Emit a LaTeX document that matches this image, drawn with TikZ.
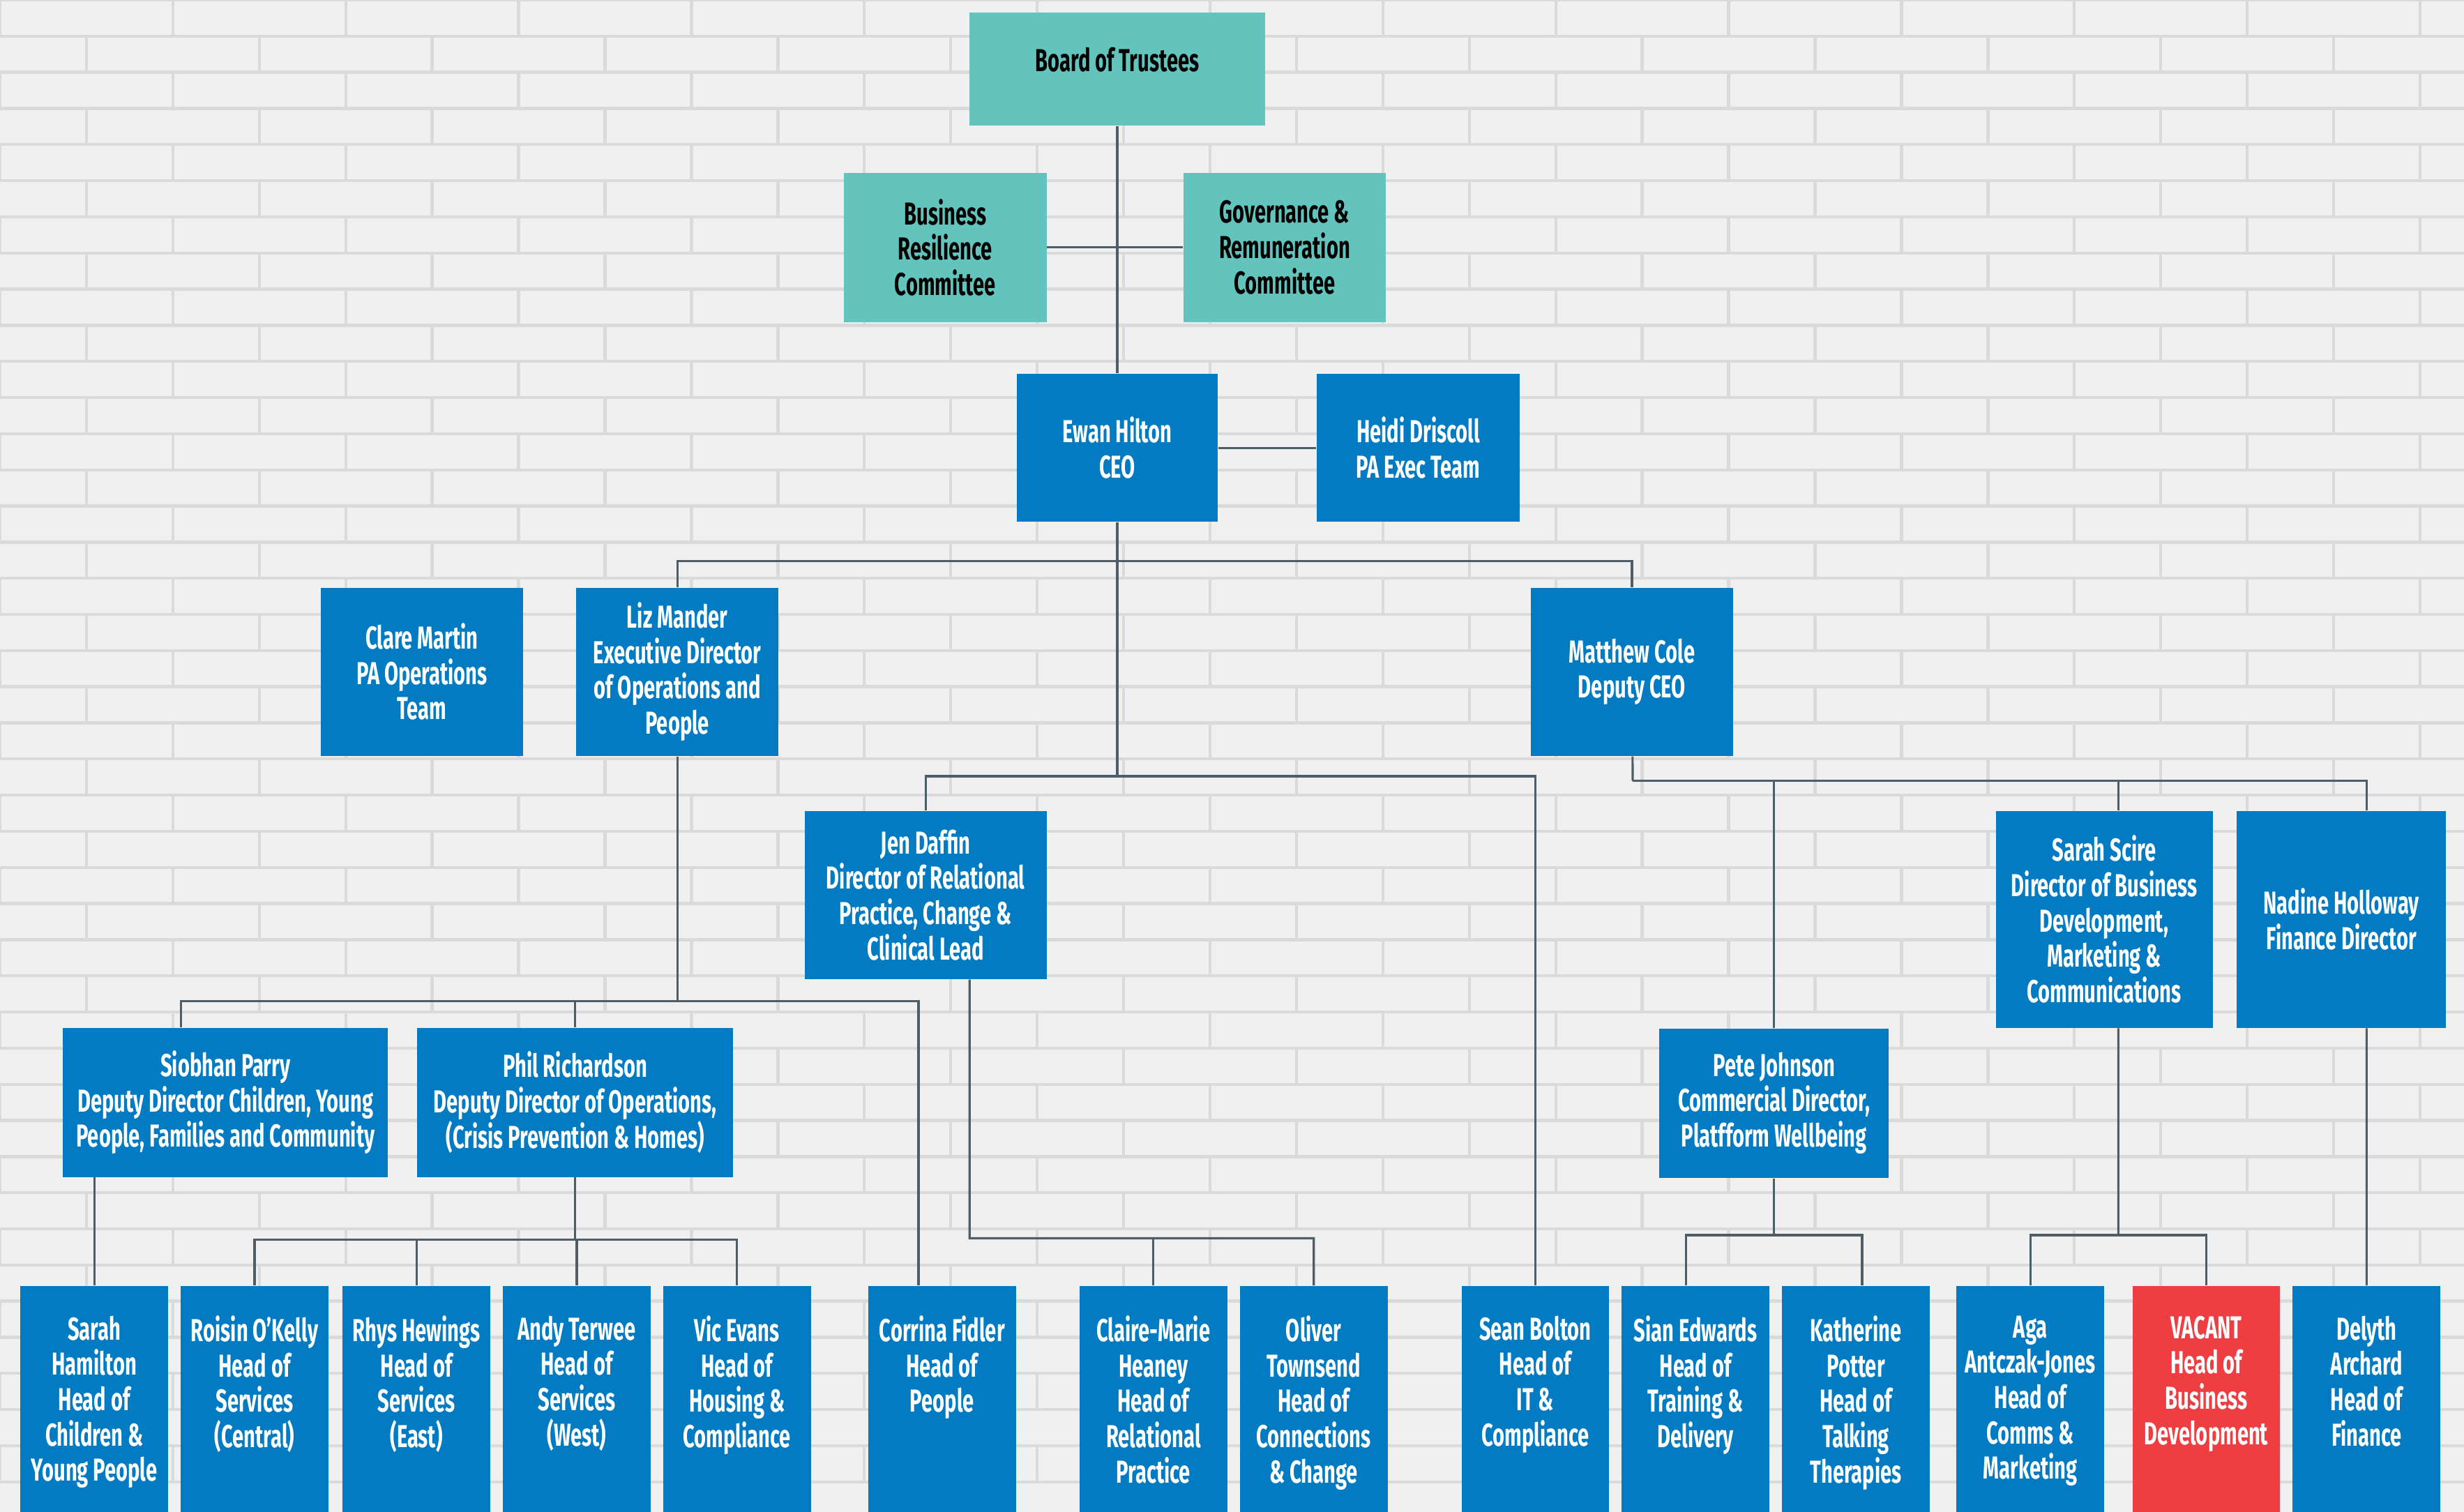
\documentclass[tikz,border=0pt]{standalone}
\usepackage{fontspec}
\setmainfont{Fira Sans}[FakeStretch=0.64]
\definecolor{trustee}{RGB}{98,196,188}
\definecolor{staffblue}{RGB}{2,123,194}
\definecolor{vacantred}{RGB}{238,62,66}
\definecolor{linkgrey}{RGB}{78,93,102}
\definecolor{wall}{RGB}{240,240,240}
\definecolor{mortar}{RGB}{218,218,218}

\begin{document}
\begin{tikzpicture}[
        x=0.02cm, y=-0.02cm,
        font=\bfseries\fontsize{11.5}{12.8}\selectfont,
        board/.style={rectangle, fill=trustee, text=black, align=center, inner sep=0pt},
        staff/.style={rectangle, fill=staffblue, text=white, align=center, inner sep=0pt},
        leaf/.style={rectangle, anchor=north, minimum width=1.88cm, minimum height=2.88cm, inner sep=0pt},
        leaftext/.style={anchor=north, text=white, align=center, inner sep=0pt},
        link/.style={draw=linkgrey, line width=0.8pt},
        brick/.style={draw=mortar, line width=1.1pt},
    ]
    \useasboundingbox (0,0) rectangle (1568,962);
    % Brick wall behind the chart
    \fill[wall] (0,0) rectangle (1568,962);
    \foreach \r in {0,...,41} {
        \draw[brick] (0,\r*23) -- (1568,\r*23);
        \foreach \c in {0,...,14}
            \draw[brick] ({\c*110+mod(\r,2)*55},\r*23) -- ++(0,23);
    }

    % Trustees and committees
    \node[board, minimum width=3.76cm, minimum height=1.44cm] (trustees) at (711,44) {\raisebox{0.12cm}[\height][\depth]{Board of Trustees}};
    \node[board, minimum width=2.58cm, minimum height=1.9cm] (resilience) at (601.5,157.5) {Business\\Resilience\\Committee};
    \node[board, minimum width=2.58cm, minimum height=1.9cm] (governance) at (817.5,157.5) {Governance \&\\Remuneration\\Committee};

    % Executive team
    \node[staff, minimum width=2.56cm, minimum height=1.88cm] (ceo) at (711,285) {Ewan Hilton\\CEO};
    \node[staff, minimum width=2.58cm, minimum height=1.88cm] (paexec) at (902.5,285) {Heidi Driscoll\\PA Exec Team};
    \node[staff, minimum width=2.58cm, minimum height=2.14cm] (paops) at (268.5,427.5) {Clare Martin\\PA Operations\\Team};
    \node[staff, minimum width=2.58cm, minimum height=2.14cm] (execops) at (431,427.5) {Liz Mander\\Executive Director\\of Operations and\\People};
    \node[staff, minimum width=2.58cm, minimum height=2.14cm] (deputy) at (1038.5,427.5) {Matthew Cole\\Deputy CEO};

    % Directors
    \node[staff, minimum width=3.08cm, minimum height=2.14cm] (relational) at (589,569.5) {Jen Daffin\\Director of Relational\\Practice, Change \&\\Clinical Lead};
    \node[staff, minimum width=2.76cm, minimum height=2.76cm] (busdev) at (1339,585) {Sarah Scire\\Director of Business\\Development,\\Marketing \&\\Communications};
    \node[staff, minimum width=2.66cm, minimum height=2.76cm] (finance) at (1490,585) {Nadine Holloway\\Finance Director};
    \node[staff, minimum width=4.14cm, minimum height=1.9cm] (children) at (143.5,701.5) {Siobhan Parry\\Deputy Director Children, Young\\People, Families and Community};
    \node[staff, minimum width=4.02cm, minimum height=1.9cm] (operations) at (366,701.5) {Phil Richardson\\Deputy Director of Operations,\\(Crisis Prevention \& Homes)};
    \node[staff, minimum width=2.92cm, minimum height=1.9cm] (commercial) at (1129,702) {Pete Johnson\\Commercial Director,\\Platfform Wellbeing};

    % Heads of
    \foreach \name/\x/\fillc/\txt in {
        hamilton/60/staffblue/{Sarah\\Hamilton\\Head of\\Children \&\\Young People},
        okelly/162/staffblue/{Roisin O’Kelly\\Head of\\Services\\(Central)},
        hewings/265/staffblue/{Rhys Hewings\\Head of\\Services\\(East)},
        terwee/367/staffblue/{Andy Terwee\\Head of\\Services\\(West)},
        evans/469/staffblue/{Vic Evans\\Head of\\Housing \&\\Compliance},
        fidler/599.5/staffblue/{Corrina Fidler\\Head of\\People},
        heaney/734/staffblue/{Claire-Marie\\Heaney\\Head of\\Relational\\Practice},
        townsend/836/staffblue/{Oliver\\Townsend\\Head of\\Connections\\\& Change},
        bolton/977/staffblue/{Sean Bolton\\Head of\\IT \&\\Compliance},
        edwards/1079/staffblue/{Sian Edwards\\Head of\\Training \&\\Delivery},
        potter/1181/staffblue/{Katherine\\Potter\\Head of\\Talking\\Therapies},
        antczak/1292/staffblue/{Aga\\Antczak-Jones\\Head of\\Comms \&\\Marketing},
        vacant/1404/vacantred/{VACANT\\Head of\\Business\\Development},
        archard/1506/staffblue/{Delyth\\Archard\\Head of\\Finance}} {
        \node[leaf, fill=\fillc] (\name) at (\x,818) {};
        \node[leaftext] (\name-text) at (\x,837) {\txt};
    }

    % Reporting lines
    \draw[link] (trustees) -- (ceo);
    \draw[link] (resilience) -- (governance);
    \draw[link] (ceo) -- (paexec);

    \coordinate (ceo-bus) at (711,357);
    \coordinate (ceo-low) at (711,494);
    \draw[link] (ceo) -- (ceo-low);
    \draw[link] (execops.north) |- (ceo-bus) -| (deputy.north);
    \draw[link] (relational.north) |- (ceo-low) -| (bolton.north);

    \coordinate (ops-bus) at (431,637);
    \draw[link] (execops) -- (ops-bus);
    \draw[link] ([xshift=-0.57cm]children.north) |- (ops-bus) -| ([xshift=-0.3cm]fidler.north);
    \draw[link] (operations.north) -- (operations.north |- ops-bus);
    \draw[link] (hamilton.north) -- (hamilton.north |- children.south);

    \coordinate (ops-low) at (366,789);
    \draw[link] (operations) -- (ops-low);
    \draw[link] (okelly.north) |- (ops-low) -| (evans.north);
    \draw[link] (hewings.north) -- (hewings.north |- ops-low);
    \draw[link] (terwee.north) -- (terwee.north |- ops-low);

    \coordinate (rel-low) at (617,788);
    \draw[link] ([xshift=0.56cm]relational.south) -- (rel-low) -| (townsend.north);
    \draw[link] (heaney.north) -- (heaney.north |- rel-low);

    \coordinate (dep-bus) at (1039,497);
    \draw[link] (deputy) -- (dep-bus);
    \draw[link] (dep-bus) -| ([xshift=0.32cm]finance.north);
    \draw[link] (commercial.north) -- (commercial.north |- dep-bus);
    \draw[link] ([xshift=0.18cm]busdev.north) -- ([xshift=0.18cm]busdev.north |- dep-bus);
    \draw[link] ([xshift=0.32cm]finance.south) -- (archard.north);

    \coordinate (com-low) at (1129,786);
    \draw[link] (commercial) -- (com-low);
    \draw[link] ([xshift=-0.12cm]edwards.north) |- (com-low) -| ([xshift=0.08cm]potter.north);

    \coordinate (dev-low) at (1348,786);
    \draw[link] ([xshift=0.18cm]busdev.south) -- (dev-low);
    \draw[link] (antczak.north) |- (dev-low) -| (vacant.north);
\end{tikzpicture}
\end{document}
